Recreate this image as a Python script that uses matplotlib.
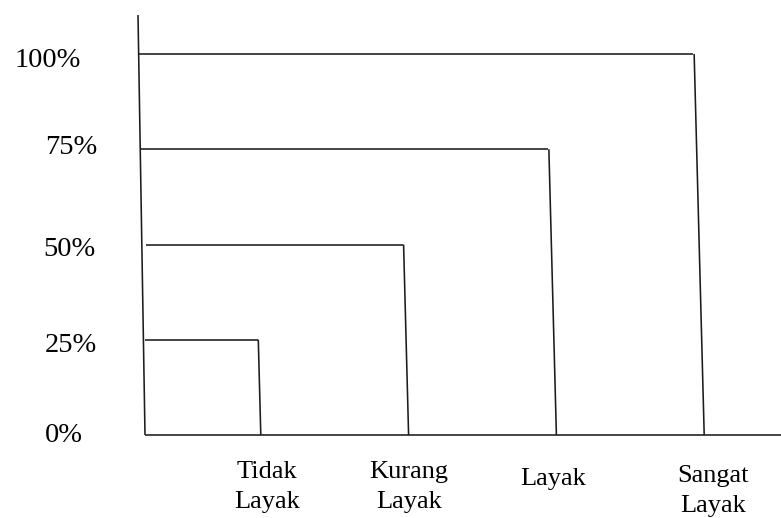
import matplotlib
matplotlib.use("Agg")
import matplotlib.pyplot as plt

# ---- data ----
categories = ["Tidak\nLayak", "Kurang\nLayak", "Layak", "Sangat\nLayak"]
values = [25, 50, 75, 100]
tick_values = [0, 25, 50, 75, 100]
tick_labels = ["0%", "25%", "50%", "75%", "100%"]

# ---- style / layout ----
W, H, DPI = 781, 518, 100
PX_PER_CAT = 147.8          # pixels per category step
X0_PX = 260.8               # pixel x of category 0
PX_PER_PCT = 3.81           # pixels per percent
Y0_PX = 435                 # pixel y (from top) of 0%
SLANT = 0.00068             # hand-drawn lean of verticals (category units per %)
LINE = dict(color="#1c1c1c", lw=1.15, solid_capstyle="butt")
FONT = "Liberation Serif"

def px_x(px):
    return (px - X0_PX) / PX_PER_CAT

def px_y(py):
    return (Y0_PX - py) / PX_PER_PCT

fig = plt.figure(figsize=(W / DPI, H / DPI), dpi=DPI)
ax = fig.add_axes([0, 0, 1, 1])
ax.set_xlim(px_x(0), px_x(W))
ax.set_ylim(px_y(H), px_y(0))
ax.axis("off")

# y axis (slightly leaning hand-drawn line)
axis_bottom_x = px_x(145)
axis_top_x = px_x(138)
axis_top_val = px_y(15)
def axis_x_at(v):
    return axis_bottom_x + (axis_top_x - axis_bottom_x) * v / axis_top_val

ax.plot([axis_bottom_x, axis_top_x], [0, axis_top_val], **LINE)
# x axis
ax.plot([axis_bottom_x, px_x(W)], [0, 0], **LINE)

# bars drawn as open outlines (top + right side)
start_gap = [0.012, 0.03, 0.0, 0.0]   # small hand-drawn gaps from the axis
for i, v in enumerate(values):
    x_bot = i
    x_top = i - SLANT * v
    ax.plot([axis_x_at(v) + start_gap[i], x_top - 0.005], [v, v], **LINE)
    ax.plot([x_top, x_bot], [v, 0], **LINE)

# y tick labels (placed as in the drawing)
lab_x_px = [45, 45, 43, 45, 15]
lab_dy_px = [7, 12, 12, 5, 13]
for t, lab, xp, dy in zip(tick_values, tick_labels, lab_x_px, lab_dy_px):
    ax.text(px_x(xp), t - dy / PX_PER_PCT, lab, family=FONT, fontsize=20.5,
            ha="left", va="baseline", color="black")

# category labels
cat_top_px = [461, 461, 468, 465]
cat_dx = [0.04, 0.0, -0.02, 0.06]
for i, c in enumerate(categories):
    ax.text(i + cat_dx[i], px_y(cat_top_px[i]), c,
            family=FONT, fontsize=19, ha="center", va="top",
            linespacing=1.45, multialignment="center", color="black")

fig.savefig("out.png", dpi=DPI)
